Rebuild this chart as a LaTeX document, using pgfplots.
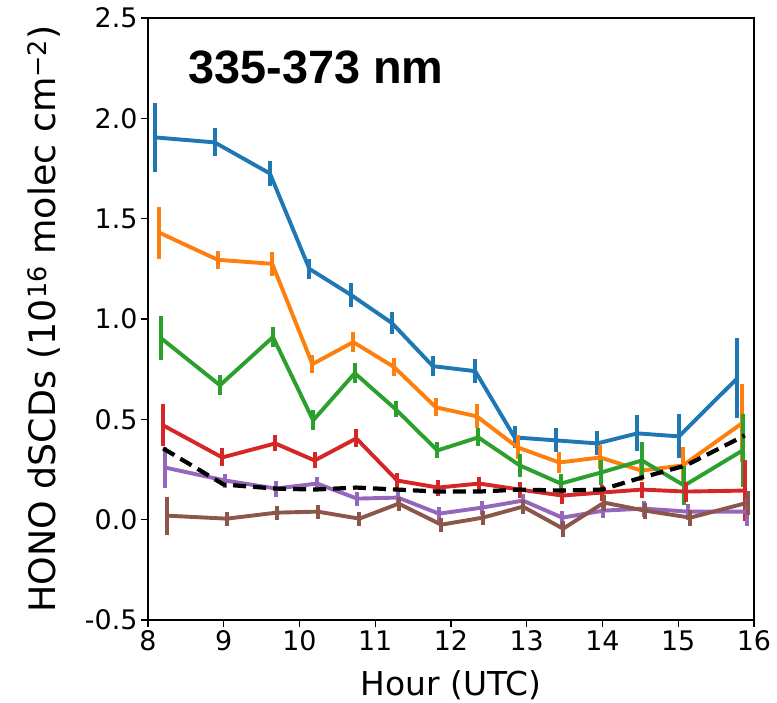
\documentclass[border=0pt]{standalone}
\usepackage{fontspec}
\setmainfont{DejaVu Sans}
\newfontfamily\titlefont{Liberation Sans}
\usepackage{pgfplots}
\pgfplotsset{compat=1.18}
\usepackage{pgfplotstable}

\definecolor{tblue}{HTML}{1F77B4}
\definecolor{torange}{HTML}{FF7F0E}
\definecolor{tgreen}{HTML}{2CA02C}
\definecolor{tred}{HTML}{D62728}
\definecolor{tpurple}{HTML}{9467BD}
\definecolor{tbrown}{HTML}{8C564B}

\pgfplotstableread{
x y e
8.09 1.905 0.17
8.88 1.88 0.07
9.61 1.725 0.06
10.13 1.25 0.05
10.68 1.12 0.06
11.22 0.98 0.055
11.76 0.765 0.05
12.32 0.74 0.06
12.84 0.41 0.055
13.39 0.395 0.06
13.93 0.38 0.06
14.46 0.43 0.09
15.01 0.415 0.11
15.78 0.705 0.2
}\blue
\pgfplotstableread{
x y e
8.15 1.43 0.13
8.92 1.295 0.045
9.64 1.275 0.06
10.17 0.775 0.045
10.71 0.885 0.05
11.25 0.76 0.045
11.80 0.56 0.045
12.34 0.515 0.06
12.88 0.36 0.06
13.43 0.285 0.05
13.97 0.31 0.06
14.51 0.245 0.05
15.06 0.27 0.09
15.84 0.48 0.195
}\orange
\pgfplotstableread{
x y e
8.17 0.905 0.11
8.95 0.67 0.05
9.65 0.91 0.05
10.18 0.495 0.05
10.73 0.73 0.05
11.27 0.55 0.04
11.82 0.345 0.04
12.36 0.41 0.045
12.91 0.27 0.055
13.45 0.18 0.05
13.98 0.235 0.06
14.52 0.295 0.09
15.08 0.17 0.095
15.85 0.345 0.18
}\green
\pgfplotstableread{
x y e
8.20 0.47 0.105
8.98 0.31 0.045
9.68 0.38 0.04
10.20 0.295 0.04
10.75 0.405 0.045
11.29 0.195 0.04
11.83 0.16 0.04
12.37 0.18 0.035
12.91 0.15 0.04
13.47 0.12 0.04
13.99 0.135 0.04
14.52 0.15 0.04
15.10 0.14 0.05
15.88 0.145 0.15
}\red
\pgfplotstableread{
x y e
8.22 0.26 0.1
9.02 0.195 0.035
9.69 0.155 0.04
10.23 0.18 0.035
10.76 0.105 0.035
11.30 0.11 0.035
11.84 0.03 0.035
12.41 0.06 0.035
12.95 0.095 0.035
13.47 0.01 0.035
14.01 0.045 0.035
14.55 0.055 0.04
15.13 0.04 0.04
15.91 0.04 0.07
}\purple
\pgfplotstableread{
x y e
8.25 0.02 0.095
9.04 0.005 0.035
9.70 0.035 0.035
10.24 0.04 0.035
10.79 0.005 0.035
11.31 0.08 0.035
11.87 -0.025 0.035
12.42 0.01 0.035
12.95 0.065 0.035
13.48 -0.045 0.04
14.02 0.085 0.04
14.56 0.045 0.04
15.16 0.01 0.04
15.92 0.085 0.06
}\brown
\pgfplotstableread{
x y
8.20 0.355
9.00 0.175
9.68 0.155
10.20 0.15
10.75 0.16
11.29 0.15
11.83 0.14
12.37 0.14
12.91 0.15
13.47 0.145
13.99 0.15
14.52 0.21
15.10 0.27
15.88 0.42
}\dashed

\pgfplotsset{
  ser/.style={color=#1, line width=3.9bp, line join=round, mark=none,
    error bars/.cd, y dir=both, y explicit, error mark=none,
    error bar style={line width=3.9bp, color=#1}},
}

\begin{document}
\begin{tikzpicture}
\path[use as bounding box] (-148bp,-83bp) rectangle (629bp,620bp);
\begin{axis}[
  at={(0,0)}, anchor=south west,
  scale only axis, width=606bp, height=602bp,
  xmin=8, xmax=16, ymin=-0.5, ymax=2.5,
  xtick={8,9,10,11,12,13,14,15,16},
  xticklabels={8,9,10,11,12,13,14,15,16},
  ytick={-0.5,0,0.5,1,1.5,2,2.5},
  yticklabels={-0.5,0.0,0.5,1.0,1.5,2.0,2.5},
  tick align=outside, tick pos=left,
  major tick length=7bp,
  tick style={line width=1.2bp, black},
  axis line style={line width=1.2bp},
  ticklabel style={font=\fontsize{27}{30}\selectfont},
  xlabel={Hour (UTC)},
  ylabel={HONO dSCDs (10\textsuperscript{16} molec cm\textsuperscript{−2})},
  xlabel style={font=\fontsize{33}{36}\selectfont, at={(axis description cs:0.5,-0.1246)}, anchor=base},
  ylabel style={font=\fontsize{36.5}{40}\selectfont, at={(axis description cs:-0.172,0.5)}, anchor=center},
]
\addplot[ser=tblue] table[x=x, y=y, y error=e] {\blue};
\addplot[ser=torange] table[x=x, y=y, y error=e] {\orange};
\addplot[ser=tgreen] table[x=x, y=y, y error=e] {\green};
\addplot[ser=tred] table[x=x, y=y, y error=e] {\red};
\addplot[ser=tpurple] table[x=x, y=y, y error=e] {\purple};
\addplot[ser=tbrown] table[x=x, y=y, y error=e] {\brown};
\addplot[black, dash pattern=on 13bp off 7bp, line width=4.2bp, mark=none] table[x=x, y=y] {\dashed};
\node[anchor=base west, inner sep=0, font=\titlefont\fontsize{47}{50}\selectfont\bfseries] at (axis cs:8.53,2.176) {335-373 nm};
\end{axis}
\end{tikzpicture}
\end{document}
